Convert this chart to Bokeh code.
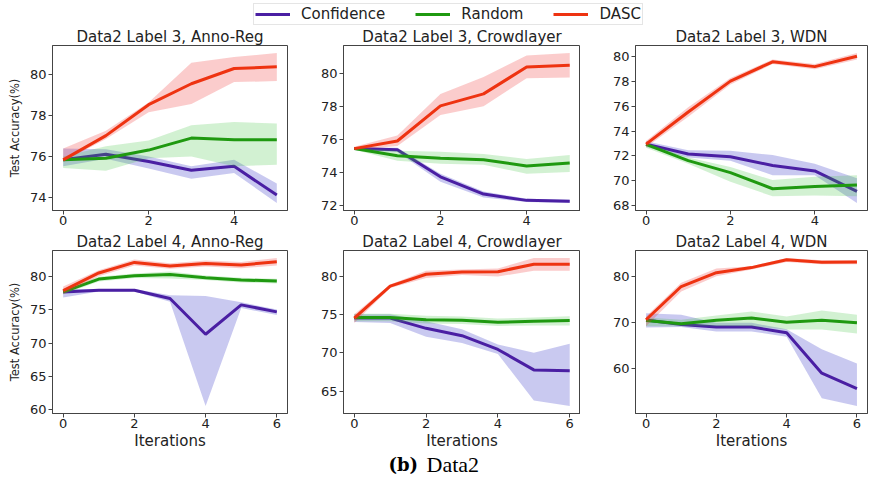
from bokeh.plotting import figure
from bokeh.layouts import column, row
from bokeh.models import (Range1d, FixedTicker, Legend, LegendItem, Label)
from bokeh.embed import file_html
from bokeh.resources import INLINE

# ---------------- data ----------------
methods = ["Confidence", "Random", "DASC"]
iters_top = [0, 1, 2, 3, 4, 5]
iters_bot = [0, 1, 2, 3, 4, 5, 6]

titles = ["Data2 Label 3, Anno-Reg", "Data2 Label 3, Crowdlayer", "Data2 Label 3, WDN",
          "Data2 Label 4, Anno-Reg", "Data2 Label 4, Crowdlayer", "Data2 Label 4, WDN"]

yticks_p1 = [74, 76, 78, 80]
yticks_p2 = [72, 74, 76, 78, 80]
yticks_p3 = [68, 70, 72, 74, 76, 78, 80]
yticks_p4 = [60, 65, 70, 75, 80]
yticks_p5 = [65, 70, 75, 80]
yticks_p6 = [60, 70, 80]
xticks_top = [0, 2, 4]
xticks_bot = [0, 2, 4, 6]

# Panel 1: Label 3, Anno-Reg
p1_conf = [75.83, 76.11, 75.75, 75.32, 75.51, 74.10]
p1_conf_lo = [75.51, 75.88, 75.40, 74.90, 75.19, 73.71]
p1_conf_hi = [76.39, 76.35, 75.99, 75.51, 75.83, 74.67]
p1_rand = [75.83, 75.91, 76.31, 76.90, 76.82, 76.82]
p1_rand_lo = [75.43, 75.30, 75.91, 75.99, 75.51, 75.59]
p1_rand_hi = [75.99, 76.50, 76.78, 77.53, 77.69, 77.61]
p1_dasc = [75.83, 77.02, 78.54, 79.57, 80.32, 80.40]
p1_dasc_lo = [75.75, 76.86, 78.17, 78.58, 79.65, 79.70]
p1_dasc_hi = [76.39, 77.26, 78.65, 80.60, 80.88, 81.08]

# Panel 2: Label 3, Crowdlayer
p2_conf = [75.45, 75.38, 73.74, 72.69, 72.31, 72.25]
p2_conf_lo = [75.38, 75.25, 73.44, 72.49, 72.21, 72.15]
p2_conf_hi = [75.52, 75.50, 73.93, 72.85, 72.41, 72.35]
p2_rand = [75.45, 75.02, 74.86, 74.78, 74.39, 74.57]
p2_rand_lo = [75.38, 74.72, 74.53, 74.47, 73.93, 74.03]
p2_rand_hi = [75.52, 75.32, 75.26, 75.12, 74.82, 75.06]
p2_dasc = [75.45, 75.91, 78.04, 78.77, 80.40, 80.51]
p2_dasc_lo = [75.38, 75.61, 77.49, 78.02, 79.72, 79.76]
p2_dasc_hi = [75.57, 76.25, 78.77, 79.80, 81.10, 81.25]

# Panel 3: Label 3, WDN
p3_conf = [72.95, 72.15, 71.94, 71.23, 70.79, 69.14]
p3_conf_lo = [72.72, 71.88, 71.62, 70.45, 70.45, 68.20]
p3_conf_hi = [73.19, 72.46, 72.41, 72.07, 71.36, 70.20]
p3_rand = [72.93, 71.62, 70.65, 69.35, 69.53, 69.66]
p3_rand_lo = [72.67, 71.36, 69.92, 68.74, 68.80, 68.74]
p3_rand_hi = [73.06, 71.88, 71.10, 70.05, 70.31, 70.45]
p3_dasc = [72.95, 75.55, 78.04, 79.60, 79.21, 80.05]
p3_dasc_lo = [72.70, 75.16, 77.77, 79.42, 79.00, 79.79]
p3_dasc_hi = [73.20, 75.94, 78.30, 79.79, 79.42, 80.31]

# Panel 4: Label 4, Anno-Reg
p4_conf = [77.69, 77.98, 77.98, 76.72, 71.33, 75.76, 74.70]
p4_conf_lo = [76.87, 77.78, 77.78, 76.24, 60.48, 75.28, 74.22]
p4_conf_hi = [78.17, 78.17, 78.17, 77.20, 77.10, 76.14, 75.08]
p4_rand = [77.73, 79.66, 80.14, 80.34, 79.86, 79.52, 79.37]
p4_rand_lo = [77.35, 79.30, 79.80, 79.76, 79.50, 79.15, 79.00]
p4_rand_hi = [78.10, 80.00, 80.50, 80.80, 80.20, 79.85, 79.70]
p4_dasc = [77.90, 80.58, 82.17, 81.64, 82.02, 81.78, 82.27]
p4_dasc_lo = [77.35, 80.10, 81.70, 81.20, 81.55, 81.30, 81.70]
p4_dasc_hi = [78.55, 81.00, 82.60, 82.05, 82.45, 82.25, 82.85]

# Panel 5: Label 4, Crowdlayer
p5_conf = [74.56, 74.56, 73.22, 72.26, 70.46, 67.78, 67.66]
p5_conf_lo = [74.06, 73.93, 72.13, 71.30, 69.87, 63.77, 63.05]
p5_conf_hi = [75.06, 75.06, 74.14, 73.10, 71.09, 70.04, 71.21]
p5_rand = [74.64, 74.64, 74.35, 74.27, 74.02, 74.14, 74.23]
p5_rand_lo = [74.14, 74.14, 73.85, 73.77, 73.52, 73.60, 73.60]
p5_rand_hi = [75.14, 75.14, 74.85, 74.77, 74.50, 74.65, 74.80]
p5_dasc = [74.56, 78.74, 80.29, 80.59, 80.63, 81.59, 81.59]
p5_dasc_lo = [73.93, 78.49, 79.79, 80.21, 80.00, 80.75, 80.75]
p5_dasc_hi = [75.06, 78.95, 80.75, 80.92, 81.05, 82.43, 82.43]

# Panel 6: Label 4, WDN
p6_conf = [70.56, 69.58, 69.03, 69.03, 67.78, 59.03, 55.70]
p6_conf_lo = [68.90, 69.03, 68.06, 68.06, 66.94, 53.60, 51.90]
p6_conf_hi = [72.00, 71.67, 69.93, 69.93, 68.54, 64.20, 61.10]
p6_rand = [70.42, 69.72, 70.49, 70.97, 70.07, 70.49, 69.93]
p6_rand_lo = [69.20, 69.20, 69.20, 69.20, 68.50, 68.50, 67.60]
p6_rand_hi = [71.10, 70.60, 71.50, 72.40, 71.30, 72.60, 71.70]
p6_dasc = [70.60, 77.80, 80.80, 81.90, 83.60, 83.06, 83.10]
p6_dasc_lo = [69.20, 76.70, 80.00, 81.50, 83.10, 82.60, 82.60]
p6_dasc_hi = [71.30, 78.60, 81.70, 82.20, 84.00, 83.50, 83.50]

caption_bold = "(b)"
caption_text = "Data2"

# ---------------- style ----------------
line_colors = {"Confidence": "#4a1fa3", "Random": "#1f9910", "DASC": "#ee3311"}
band_colors = {"Confidence": "#3c3cc8", "Random": "#33c033", "DASC": "#f03535"}
band_alpha = {"Confidence": 0.28, "Random": 0.22, "DASC": 0.25}
FONT = "DejaVu Sans"


def make_panel(title, xs, data, yticks, xticks, ylabel, xlabel,
               fw, fh, bl, br, bt, bb):
    allv = []
    for m in methods:
        allv += data[m][1] + data[m][2]
    lo, hi = min(allv), max(allv)
    pad = (hi - lo) * 0.05
    xpad = (max(xs) - min(xs)) * 0.05
    p = figure(frame_width=fw, frame_height=fh, output_backend="svg",
               toolbar_location=None, title=title,
               x_range=Range1d(min(xs) - xpad, max(xs) + xpad),
               y_range=Range1d(lo - pad, hi + pad),
               min_border_left=bl, min_border_right=br,
               min_border_top=bt, min_border_bottom=bb)
    p.title.align = "center"
    p.title.text_font = FONT
    p.title.text_font_size = "15px"
    p.title.text_font_style = "normal"
    p.title.text_color = "#222222"
    p.title.standoff = 0
    p.title.offset = 0
    p.xgrid.visible = False
    p.ygrid.visible = False
    p.outline_line_color = "#444444"
    p.outline_line_width = 1
    p.background_fill_color = "white"
    p.border_fill_color = "white"
    for m in methods:
        mean, lo_, hi_ = data[m]
        p.varea(x=xs, y1=lo_, y2=hi_, fill_color=band_colors[m],
                fill_alpha=band_alpha[m])
        p.line(x=xs, y=mean, line_color=line_colors[m], line_width=3)
    for ax in (p.xaxis[0], p.yaxis[0]):
        ax.axis_line_color = "#444444"
        ax.major_tick_line_color = "#444444"
        ax.major_tick_out = 4
        ax.major_tick_in = 0
        ax.minor_tick_line_color = None
        ax.major_label_text_font = FONT
        ax.major_label_text_font_size = "13px"
        ax.major_label_text_color = "#222222"
        ax.major_label_standoff = 2
        ax.axis_label_text_font = FONT
        ax.axis_label_text_font_style = "normal"
        ax.axis_label_text_color = "#222222"
    p.xaxis.major_label_standoff = 1
    p.xaxis.ticker = FixedTicker(ticks=xticks)
    p.yaxis.ticker = FixedTicker(ticks=yticks)
    if ylabel:
        p.yaxis.axis_label = "Test Accuracy(%)"
        p.yaxis.axis_label_text_font_size = "11.5px"
        p.yaxis.axis_label_standoff = 5
    if xlabel:
        p.xaxis.axis_label = "Iterations"
        p.xaxis.axis_label_text_font_size = "15px"
        p.xaxis.axis_label_standoff = 1
    return p


def pack(mean, lo, hi):
    return (mean, lo, hi)


d1 = {"Confidence": pack(p1_conf, p1_conf_lo, p1_conf_hi),
      "Random": pack(p1_rand, p1_rand_lo, p1_rand_hi),
      "DASC": pack(p1_dasc, p1_dasc_lo, p1_dasc_hi)}
d2 = {"Confidence": pack(p2_conf, p2_conf_lo, p2_conf_hi),
      "Random": pack(p2_rand, p2_rand_lo, p2_rand_hi),
      "DASC": pack(p2_dasc, p2_dasc_lo, p2_dasc_hi)}
d3 = {"Confidence": pack(p3_conf, p3_conf_lo, p3_conf_hi),
      "Random": pack(p3_rand, p3_rand_lo, p3_rand_hi),
      "DASC": pack(p3_dasc, p3_dasc_lo, p3_dasc_hi)}
d4 = {"Confidence": pack(p4_conf, p4_conf_lo, p4_conf_hi),
      "Random": pack(p4_rand, p4_rand_lo, p4_rand_hi),
      "DASC": pack(p4_dasc, p4_dasc_lo, p4_dasc_hi)}
d5 = {"Confidence": pack(p5_conf, p5_conf_lo, p5_conf_hi),
      "Random": pack(p5_rand, p5_rand_lo, p5_rand_hi),
      "DASC": pack(p5_dasc, p5_dasc_lo, p5_dasc_hi)}
d6 = {"Confidence": pack(p6_conf, p6_conf_lo, p6_conf_hi),
      "Random": pack(p6_rand, p6_rand_lo, p6_rand_hi),
      "DASC": pack(p6_dasc, p6_dasc_lo, p6_dasc_hi)}

# top row
f1 = make_panel(titles[0], iters_top, d1, yticks_p1, xticks_top, True, False, 235, 165, 52, 3, 18, 20)
f2 = make_panel(titles[1], iters_top, d2, yticks_p2, xticks_top, False, False, 237, 165, 53, 0, 18, 20)
f3 = make_panel(titles[2], iters_top, d3, yticks_p3, xticks_top, False, False, 232, 165, 55, 8, 18, 20)
# bottom row
f4 = make_panel(titles[3], iters_bot, d4, yticks_p4, xticks_bot, True, True, 235, 163, 52, 3, 20, 28)
f5 = make_panel(titles[4], iters_bot, d5, yticks_p5, xticks_bot, False, True, 237, 163, 53, 0, 20, 28)
f6 = make_panel(titles[5], iters_bot, d6, yticks_p6, xticks_bot, False, True, 232, 163, 55, 8, 20, 28)

# legend strip (no axes, so the frame fills the canvas)
nan = float("nan")
lg = figure(width=875, height=25, output_backend="svg", toolbar_location=None,
            x_range=Range1d(0, 1), y_range=Range1d(0, 1),
            x_axis_location=None, y_axis_location=None,
            min_border_left=0, min_border_right=0, min_border_top=0, min_border_bottom=0)
lg.grid.visible = False
lg.outline_line_color = None
items = []
for m in methods:
    r = lg.line(x=[nan, nan], y=[nan, nan], line_color=line_colors[m], line_width=3)
    items.append(LegendItem(label=m, renderers=[r]))
leg = Legend(items=items, orientation="horizontal", location=(253, 0))
leg.label_text_font = FONT
leg.label_text_font_size = "15px"
leg.label_text_color = "#222222"
leg.glyph_width = 35
leg.glyph_height = 14
leg.label_height = 14
leg.label_standoff = 11
leg.spacing = 30
leg.padding = 1
leg.margin = 0
leg.border_line_color = "#cccccc"
leg.border_line_width = 1
lg.add_layout(leg, "center")

# caption strip (no axes, so the frame fills the canvas)
cap = figure(width=875, height=24, output_backend="svg", toolbar_location=None,
             x_range=Range1d(0, 1), y_range=Range1d(0, 1),
             x_axis_location=None, y_axis_location=None,
             min_border_left=0, min_border_right=0, min_border_top=0, min_border_bottom=0)
cap.grid.visible = False
cap.outline_line_color = None
cap.add_layout(Label(x=388, y=12, x_units="screen", y_units="screen", text=caption_bold,
                     text_font="DejaVu Serif", text_font_style="bold",
                     text_font_size="18px", text_color="black",
                     text_baseline="middle"))
cap.add_layout(Label(x=426, y=12, x_units="screen", y_units="screen", text=caption_text,
                     text_font="Liberation Serif", text_font_size="22px",
                     text_color="black", text_baseline="middle"))

layout = column(lg, row(f1, f2, f3, spacing=0), row(f4, f5, f6, spacing=0), cap, spacing=0)

open("out.html", "w").write(file_html(layout, INLINE))
